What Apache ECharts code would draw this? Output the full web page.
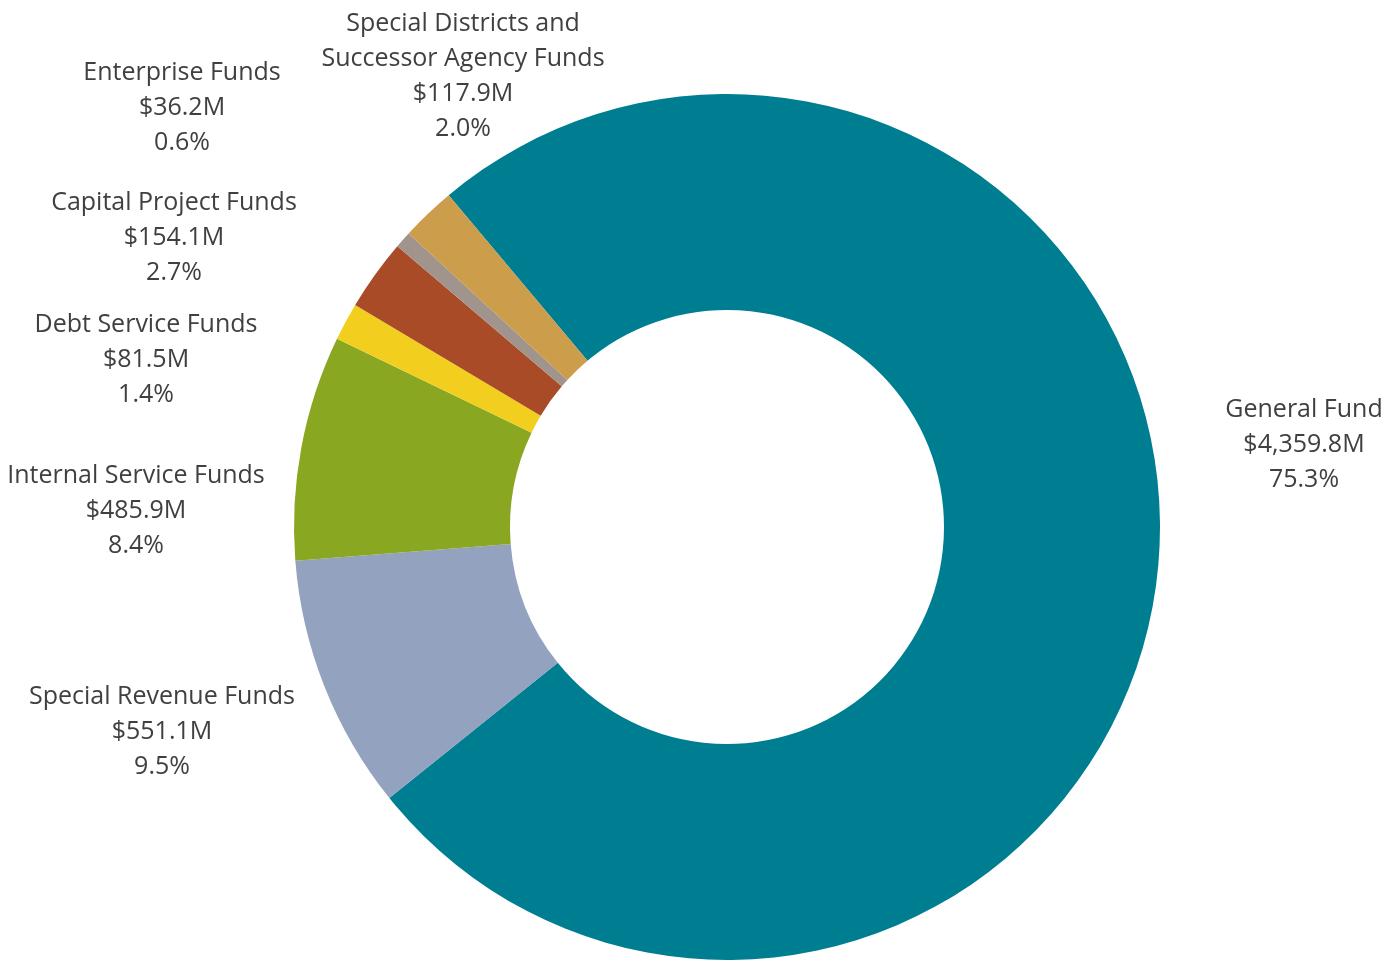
<!DOCTYPE html>
<html>
<head>
<meta charset="utf-8">
<script src="https://cdn.jsdelivr.net/npm/echarts@6/dist/echarts.min.js"></script>
<style>
  html, body { margin: 0; padding: 0; background: #ffffff; }
  #chart { width: 1398px; height: 961px; }
</style>
</head>
<body>
<div id="chart"></div>
<script>
// Fund names, in drawing order (clockwise from the General Fund)
const funds = [
  'General Fund',
  'Special Revenue Funds',
  'Internal Service Funds',
  'Debt Service Funds',
  'Capital Project Funds',
  'Enterprise Funds',
  'Special Districts and\nSuccessor Agency Funds'
];
// Amounts in millions of dollars
const amounts = [4359.8, 551.1, 485.9, 81.5, 154.1, 36.2, 117.9];
const colors = ['#007E91', '#92A2BF', '#8AA722', '#F2CF1F', '#AA4B27', '#A0948C', '#CC9E4B'];

// Centre point of each label block
const labelAnchors = [
  [1304, 445],
  [162, 732],
  [136, 511],
  [146, 360],
  [174, 238],
  [182, 108],
  [463, 76]
];

const total = amounts.reduce((a, b) => a + b, 0);
const fmtMoney = v => '$' + v.toLocaleString('en-US', { minimumFractionDigits: 1, maximumFractionDigits: 1 }) + 'M';

const chart = echarts.init(document.getElementById('chart'), null, { renderer: 'canvas' });
chart.setOption({
  animation: false,
  backgroundColor: '#ffffff',
  series: [{
    type: 'pie',
    center: [727, 527],
    radius: [217, 433],
    startAngle: 130,
    clockwise: true,
    avoidLabelOverlap: false,
    itemStyle: { borderWidth: 0 },
    label: {
      show: true,
      position: 'outside',
      color: '#404040',
      fontFamily: 'Open Sans',
      fontSize: 25,
      lineHeight: 35,
      align: 'center',
      formatter: p => p.name + '\n' + fmtMoney(p.value) + '\n' + (p.value / total * 100).toFixed(1) + '%'
    },
    labelLine: { show: false },
    labelLayout: p => ({
      x: labelAnchors[p.dataIndex][0],
      y: labelAnchors[p.dataIndex][1],
      align: 'center',
      verticalAlign: 'middle'
    }),
    emphasis: { disabled: true },
    data: funds.map((name, i) => ({ name, value: amounts[i], itemStyle: { color: colors[i] } }))
  }]
});
</script>
</body>
</html>
